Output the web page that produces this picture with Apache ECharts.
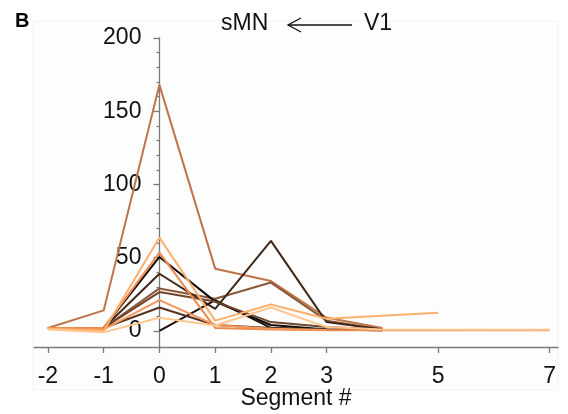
<!DOCTYPE html>
<html>
<head>
<meta charset="utf-8">
<script src="https://cdn.jsdelivr.net/npm/echarts@6/dist/echarts.min.js"></script>
<style>
  html, body { margin: 0; padding: 0; background: #fff; }
  #main { width: 568px; height: 414px; }
</style>
</head>
<body>
<div id="main"></div>
<script>
// ticks of the x axis (segment numbers) and of the y axis
var xTicks = [-2, -1, 0, 1, 2, 3, 5, 7];
var yMajor = [0, 50, 100, 150, 200];
var yMinor = [10, 20, 30, 40, 60, 70, 80, 90, 110, 120, 130, 140, 160, 170, 180, 190];

// each trace: [segment, value]
var sienna    = [[-2, 2], [-1, 14], [0, 168], [1, 42.5], [2, 34], [3, 9], [4, 2]];
var brownPeak = [[-2, 2], [-1, 2], [0, 29], [1, 22], [2, 33], [3, 7], [4, 1]];
var darkPeak  = [[-2, 2], [-1, 2], [0, 39], [1, 15], [2, 61.5], [3, 6], [4, 1]];
var black51   = [[-2, 2], [-1, 2], [0, 50.5], [1, 20], [2, 4], [3, 1], [4, 0.5]];
var black0    = [[0, 0], [1, 21], [2, 2], [3, 1]];
var dark16    = [[-2, 2], [-1, 2], [0, 16], [1, 4], [2, 2], [3, 1], [4, 0.5]];
var brown26   = [[-2, 2], [-1, 2], [0, 26.5], [1, 20], [2, 6], [3, 2.6], [4, 1]];
var orange54  = [[-2, 2], [-1, 2], [0, 53.5], [1, 2], [2, 1], [3, 0.5], [5, 0.5], [7, 0.5]];
var orange21  = [[-2, 1.5], [-1, 1], [0, 21], [1, 4], [2, 1.5], [3, 0.6]];
var light64   = [[-2, 1.5], [-1, 0], [0, 63.7], [1, 7], [2, 18], [3, 8.3], [5, 12.4]];
var peach9    = [[-2, 1], [-1, -1], [0, 9], [1, 3.7], [2, 16], [3, 2.6], [4, 1], [7, 0.8]];

var traces = [
  { data: sienna,    color: '#bf7547' },
  { data: brownPeak, color: '#8a5738' },
  { data: darkPeak,  color: '#3f2819' },
  { data: black51,   color: '#120a05' },
  { data: black0,    color: '#1c120a' },
  { data: dark16,    color: '#553522' },
  { data: brown26,   color: '#6f452b' },
  { data: orange54,  color: '#ee8a4e' },
  { data: orange21,  color: '#f4975c' },
  { data: light64,   color: '#fbb06c' },
  { data: peach9,    color: '#ffc68e' }
];

var font = 'Liberation Sans, Arial, sans-serif';
var axisGray = '#7a7a7a';

var gridLeft = 34, gridRight = 10;
var xMin = -2.25, xMax = 7.15;
// y axes are pushed right so they stand at segment 0
var zeroShift = (0 - xMin) / (xMax - xMin) * (568 - gridLeft - gridRight);

var chart = echarts.init(document.getElementById('main'));
chart.setOption({
  animation: false,
  grid: { left: gridLeft, right: gridRight, top: 38, bottom: 67, outerBoundsMode: 'none', containLabel: false },
  graphic: [
    { type: 'rect', shape: { x: 33, y: 21, width: 525, height: 369 },
      style: { fill: '#fdfdfd', stroke: '#f3f3f3', lineWidth: 1 }, z: -10 },
    { type: 'text', left: 15, top: 11,
      style: { text: 'B', font: 'bold 20px ' + font, fill: '#000' } },
    { type: 'text', left: 221, top: 12,
      style: { text: 'sMN', font: '23px ' + font, fill: '#111' } },
    { type: 'line', shape: { x1: 288, y1: 25, x2: 352, y2: 25 },
      style: { stroke: '#111', lineWidth: 1.3 } },
    { type: 'polyline', shape: { points: [[301, 18], [288, 25], [301, 32]] },
      style: { stroke: '#111', lineWidth: 1.3, fill: null } },
    { type: 'text', left: 364, top: 12,
      style: { text: 'V1', font: '23px ' + font, fill: '#111' } }
  ],
  xAxis: {
    type: 'value',
    min: xMin,
    max: xMax,
    name: 'Segment #',
    nameLocation: 'middle',
    nameGap: 40,
    nameMoveOverlap: false,
    nameTextStyle: { fontSize: 23, fontFamily: font, color: '#111' },
    splitLine: { show: false },
    axisLine: { onZero: false, lineStyle: { color: axisGray, width: 1.3 } },
    axisTick: { show: true, customValues: xTicks, length: 6, lineStyle: { color: axisGray, width: 1.3 } },
    axisLabel: { customValues: xTicks, fontSize: 23, fontFamily: font, color: '#111', margin: 18 }
  },
  yAxis: [
    {
      type: 'value',
      min: -11,
      max: 200,
      position: 'left',
      offset: -zeroShift,
      splitLine: { show: false },
      axisLine: { show: true, onZero: false, lineStyle: { color: axisGray, width: 1.3 } },
      axisTick: { show: true, customValues: yMajor, length: 6, lineStyle: { color: axisGray, width: 1.3 } },
      axisLabel: { customValues: yMajor, fontSize: 23, fontFamily: font, color: '#111', margin: 18 }
    },
    {
      type: 'value',
      min: -11,
      max: 200,
      position: 'left',
      offset: -zeroShift,
      splitLine: { show: false },
      axisLine: { show: false, onZero: false },
      axisTick: { show: true, customValues: yMinor, length: 3, lineStyle: { color: axisGray, width: 1.2 } },
      axisLabel: { show: false }
    }
  ],
  series: traces.map(function (t) {
    return {
      type: 'line',
      data: t.data,
      yAxisIndex: 0,
      symbol: 'none',
      lineStyle: { color: t.color, width: 2 },
      z: 3
    };
  })
});
</script>
</body>
</html>
